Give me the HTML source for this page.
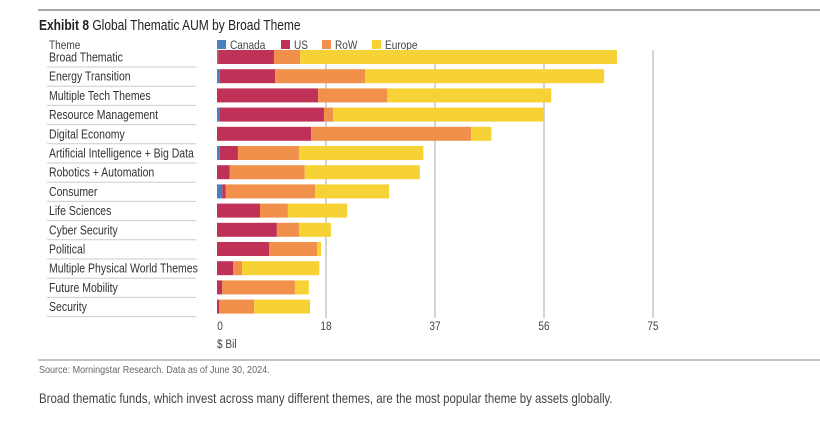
<!DOCTYPE html>
<html><head><meta charset="utf-8"><style>
body{margin:0;background:#fff;width:820px;height:416px;overflow:hidden;font-family:"Liberation Sans",sans-serif;}
svg text{font-family:"Liberation Sans",sans-serif;}
</style></head><body>
<svg id="c" width="820" height="416">
<line x1="38" y1="10" x2="820" y2="10" stroke="#888" stroke-width="1.5"/>
<text transform="translate(39,30) scale(0.8,1)" font-size="15" fill="#222"><tspan font-weight="bold">Exhibit 8</tspan> Global Thematic AUM by Broad Theme</text>
<text transform="translate(49,49) scale(0.84,1)" font-size="12" fill="#444">Theme</text>
<g id="legend"></g>
<g id="grid"></g><g id="labels"></g><g id="bars"></g><g id="ticks"></g>
<text transform="translate(217,348) scale(0.84,1)" font-size="12" fill="#444">$ Bil</text>
<line x1="38" y1="360" x2="820" y2="360" stroke="#888" stroke-width="1"/>
<text transform="translate(39,373) scale(0.86,1)" font-size="10.5" fill="#666">Source: Morningstar Research. Data as of June 30, 2024.</text>
<text transform="translate(39,403) scale(0.82,1)" font-size="14" fill="#444">Broad thematic funds, which invest across many different themes, are the most popular theme by assets globally.</text>
</svg>
<script>
const categories=["Broad Thematic","Energy Transition","Multiple Tech Themes","Resource Management","Digital Economy","Artificial Intelligence + Big Data","Robotics + Automation","Consumer","Life Sciences","Cyber Security","Political","Multiple Physical World Themes","Future Mobility","Security"];
const seriesNames=["Canada","US","RoW","Europe"];
const canada=[0.2,0.5,0,0.4,0,0.5,0,0.9,0,0,0,0,0,0];
const us=[9.6,9.5,17.4,18.0,16.2,3.1,2.2,0.6,7.4,10.3,9.0,2.8,0.9,0.4];
const row=[4.5,15.5,11.9,1.6,27.5,10.5,12.9,15.4,4.8,3.8,8.2,1.5,12.5,6.0];
const europe=[54.5,41.1,28.2,36.1,3.5,21.4,19.8,12.7,10.2,5.5,0.7,13.3,2.4,9.6];
const tickVals=[0,18.75,37.5,56.25,75];
const tickLabels=["0","18","37","56","75"];
const colors=["#4a7fc1","#bf3157","#f0904a","#f7d234"];
const NS="http://www.w3.org/2000/svg";
const x0=217,x1=653,xMax=75;
const xs=v=>x0+v/xMax*(x1-x0);
const y0=57,pitch=19.2,bh=14;
const ys=i=>y0+i*pitch;
function mk(t,a,p){const e=document.createElementNS(NS,t);for(const k in a)e.setAttribute(k,a[k]);p.appendChild(e);return e;}
const grid=document.getElementById('grid'),ticks=document.getElementById('ticks');
tickVals.forEach((v,i)=>{
 if(i>0){const l=mk('line',{x1:xs(v),x2:xs(v),y1:50,y2:318,stroke:'#aaa','stroke-width':1},grid);
 
 }
 const t=mk('text',{transform:'translate('+(xs(v)+(i==0?3:0))+',330) scale(0.84,1)','font-size':12,fill:'#444','text-anchor':'middle'},ticks);t.textContent=tickLabels[i];
 
 
});
const lg=document.getElementById('legend');
const lx=[217,281,322,372];
seriesNames.forEach((n,i)=>{
 const r=mk('rect',{x:lx[i],y:40,width:9,height:9,fill:colors[i]},lg);
 
 
 const t=mk('text',{transform:'translate('+(lx[i]+13)+',49) scale(0.84,1)','font-size':12,fill:'#444'},lg);t.textContent=n;
 
 
});
const labels=document.getElementById('labels'),bars=document.getElementById('bars');
const series=[canada,us,row,europe];
categories.forEach((c,i)=>{
 const y=ys(i);
 const t=mk('text',{transform:'translate(49,'+(y+4.5)+') scale(0.84,1)','font-size':12.5,fill:'#333'},labels);t.textContent=c;
 
 
 const l=mk('line',{x1:47,x2:196,y1:y+10,y2:y+10,stroke:'#ccc','stroke-width':1},labels);
 
 
 let acc=0;
 series.forEach((s,k)=>{
  const v=s[i];if(v<=0)return;
  const r=mk('rect',{x:xs(acc),y:y-bh/2,width:xs(acc+v)-xs(acc),height:bh,fill:colors[k]},bars);
  
  
  acc+=v;
 });
});
</script>
</body></html>
